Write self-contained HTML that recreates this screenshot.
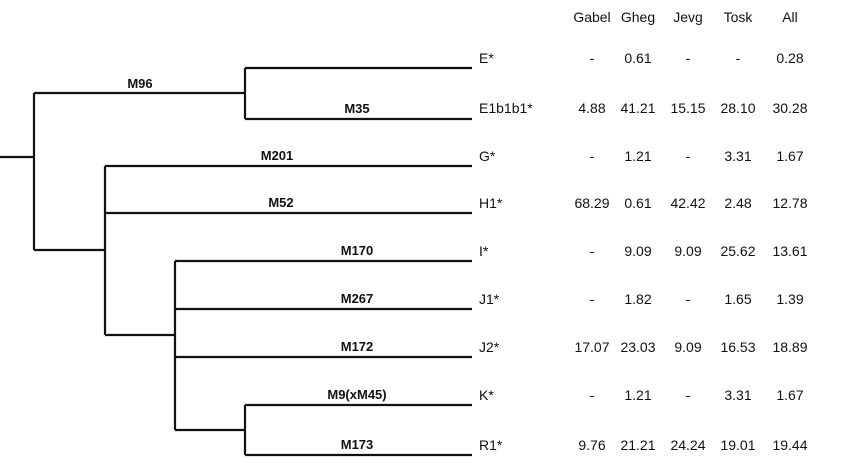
<!DOCTYPE html><html><head><style>body{margin:0;background:#fff}</style></head><body>
<svg width="850" height="459" xmlns="http://www.w3.org/2000/svg" font-family="Liberation Sans, sans-serif">
<g stroke="#111" stroke-width="2.2" fill="none">
<path d="M0 157H34M34 93V250M34 93H245M245 68V119M245 68H472M245 119H472"/>
<path d="M34 250H105M105 166V335M105 166H472M105 213H472M105 335H175"/>
<path d="M175 261V430M175 261H472M175 309H472M175 357H472M175 430H245M245 405V455M245 405H472M245 455H472"/>
</g>
<g font-size="13" font-weight="bold" text-anchor="middle" fill="#111">
<text x="140" y="88">M96</text><text x="357" y="113">M35</text>
<text x="277" y="160">M201</text><text x="281" y="207">M52</text>
<text x="357" y="255">M170</text><text x="357" y="303">M267</text>
<text x="357" y="351">M172</text><text x="357" y="399">M9(xM45)</text>
<text x="357" y="449">M173</text>
</g>
<g font-size="14" fill="#111" text-anchor="middle">
<text x="592" y="22">Gabel</text><text x="638" y="22">Gheg</text><text x="688" y="22">Jevg</text><text x="738" y="22">Tosk</text><text x="790" y="22">All</text>
</g>
<g font-size="14" fill="#111">
<text x="479" y="63">E*</text><text x="479" y="113">E1b1b1*</text><text x="479" y="161">G*</text><text x="479" y="208">H1*</text><text x="479" y="256">I*</text><text x="479" y="304">J1*</text><text x="479" y="352">J2*</text><text x="479" y="400">K*</text><text x="479" y="450">R1*</text>
</g>
<g font-size="14" fill="#111" text-anchor="middle">
<text y="63"><tspan x="592">-</tspan><tspan x="638">0.61</tspan><tspan x="688">-</tspan><tspan x="738">-</tspan><tspan x="790">0.28</tspan></text>
<text y="113"><tspan x="592">4.88</tspan><tspan x="638">41.21</tspan><tspan x="688">15.15</tspan><tspan x="738">28.10</tspan><tspan x="790">30.28</tspan></text>
<text y="161"><tspan x="592">-</tspan><tspan x="638">1.21</tspan><tspan x="688">-</tspan><tspan x="738">3.31</tspan><tspan x="790">1.67</tspan></text>
<text y="208"><tspan x="592">68.29</tspan><tspan x="638">0.61</tspan><tspan x="688">42.42</tspan><tspan x="738">2.48</tspan><tspan x="790">12.78</tspan></text>
<text y="256"><tspan x="592">-</tspan><tspan x="638">9.09</tspan><tspan x="688">9.09</tspan><tspan x="738">25.62</tspan><tspan x="790">13.61</tspan></text>
<text y="304"><tspan x="592">-</tspan><tspan x="638">1.82</tspan><tspan x="688">-</tspan><tspan x="738">1.65</tspan><tspan x="790">1.39</tspan></text>
<text y="352"><tspan x="592">17.07</tspan><tspan x="638">23.03</tspan><tspan x="688">9.09</tspan><tspan x="738">16.53</tspan><tspan x="790">18.89</tspan></text>
<text y="400"><tspan x="592">-</tspan><tspan x="638">1.21</tspan><tspan x="688">-</tspan><tspan x="738">3.31</tspan><tspan x="790">1.67</tspan></text>
<text y="450"><tspan x="592">9.76</tspan><tspan x="638">21.21</tspan><tspan x="688">24.24</tspan><tspan x="738">19.01</tspan><tspan x="790">19.44</tspan></text>
</g>
</svg>
</body></html>
